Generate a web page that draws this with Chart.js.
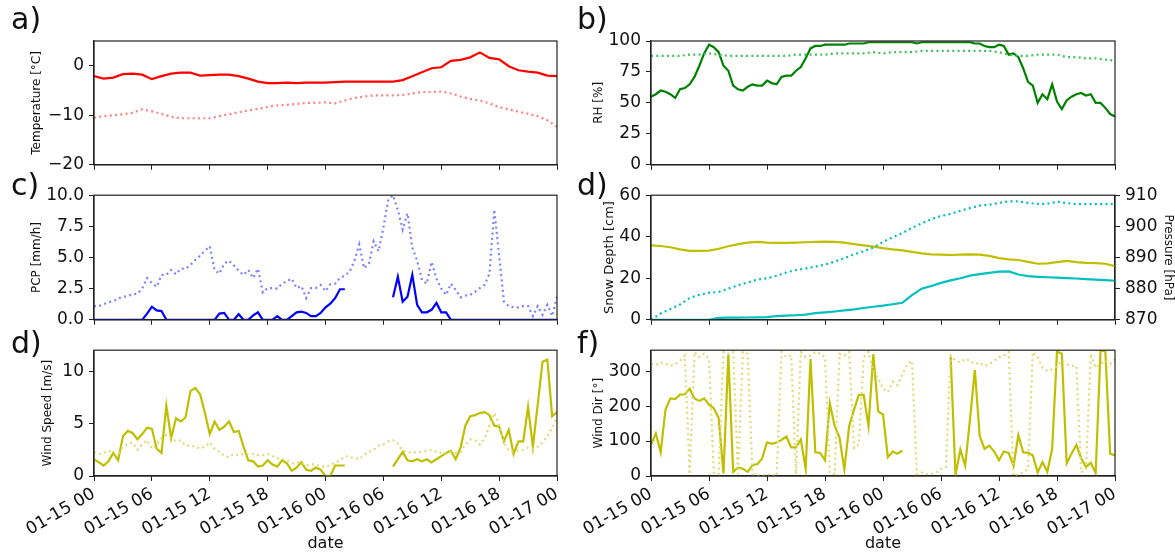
<!DOCTYPE html>
<html>
<head>
<meta charset="utf-8">
<script src="https://cdn.jsdelivr.net/npm/chart.js@4.4.1/dist/chart.umd.min.js"></script>
<style>
  body { margin: 0; background: #fff; }
  #wrap { position: relative; width: 1175px; height: 553px; overflow: hidden; font-family: "DejaVu Sans", sans-serif; }
  canvas { position: absolute; }
  .tag { position: absolute; font-size: 30px; line-height: 30px; color: #111; }
</style>
</head>
<body>
<div id="wrap">
  <canvas id="cA" width="572" height="180" style="left:0;top:0"></canvas>
  <canvas id="cB" width="600" height="180" style="left:575px;top:0"></canvas>
  <canvas id="cC" width="572" height="155" style="left:0;top:180px"></canvas>
  <canvas id="cD" width="600" height="155" style="left:575px;top:180px"></canvas>
  <canvas id="cE" width="572" height="218" style="left:0;top:335px"></canvas>
  <canvas id="cF" width="600" height="218" style="left:575px;top:335px"></canvas>
  <div class="tag" style="left:11px;top:4px">a)</div>
  <div class="tag" style="left:577px;top:4px">b)</div>
  <div class="tag" style="left:11px;top:170px">c)</div>
  <div class="tag" style="left:577px;top:170px">d)</div>
  <div class="tag" style="left:11px;top:328px">d)</div>
  <div class="tag" style="left:577px;top:328px">f)</div>
</div>
<script>
// time axis: hours since 01-15 00
const tickLabels = ["01-15 00", "01-15 06", "01-15 12", "01-15 18", "01-16 00", "01-16 06", "01-16 12", "01-16 18", "01-17 00"];
const hourly = [];
for (let i = 0; i <= 48; i++) hourly.push(i);
const halfHourly = [];
for (let i = 0; i <= 96; i++) halfHourly.push(i / 2);

// a) temperature (hourly)
const tempObs = [-2.1, -2.6, -2.4, -1.7, -1.6, -1.8, -2.7, -2.1, -1.6, -1.4,
  -1.4, -2.0, -1.9, -1.8, -1.8, -2.1, -2.6, -3.2, -3.5, -3.5,
  -3.4, -3.5, -3.4, -3.4, -3.4, -3.3, -3.2, -3.2, -3.2, -3.2,
  -3.2, -3.2, -2.9, -2.1, -1.3, -0.5, -0.3, 1.0, 1.2, 1.7,
  2.7, 1.6, 1.3, -0.1, -0.9, -1.2, -1.4, -2.0, -2.1];
const tempDot = [-10.5, -10.2, -10.0, -9.8, -9.5, -8.8, -9.2, -9.7, -10.3, -10.6,
  -10.6, -10.6, -10.6, -10.2, -9.8, -9.4, -9.0, -8.7, -8.3, -8.0,
  -7.9, -7.7, -7.5, -7.5, -7.4, -7.6, -7.0, -6.5, -6.2, -6.0,
  -6.0, -6.0, -5.9, -5.6, -5.3, -5.3, -5.2, -5.6, -6.2, -6.7,
  -7.0, -7.6, -8.4, -8.8, -9.3, -9.7, -10.2, -11.0, -12.3];

// b) relative humidity (solid half-hourly, dotted hourly)
const rhObs = [55, 57, 60, 59, 57, 54, 61, 62, 65, 71,
  80, 90, 97, 95, 91, 80, 76, 64, 61, 60,
  63, 65, 64, 64, 68, 66, 65, 71, 72, 72,
  76, 79, 86, 94, 96, 96, 97, 97, 97, 97,
  97, 98, 98, 98, 98, 99, 99, 99, 99, 99,
  99, 99, 99, 99, 99, 98, 99, 99, 99, 99,
  99, 99, 99, 99, 99, 99, 99, 98, 98, 96,
  95, 95, 97, 96, 89, 90, 87, 78, 67, 64,
  50, 57, 53, 65, 51, 45, 52, 55, 57, 58,
  56, 57, 50, 50, 46, 41, 39];
const rhDot = [88, 88, 88, 88, 89, 89, 90, 89, 88, 88,
  88, 88, 88, 88, 88, 89, 89, 89, 89, 90,
  90, 90, 90, 91, 90, 91, 91, 91, 92, 92,
  92, 92, 92, 92, 92, 92, 91, 89, 88, 88,
  89, 89, 89, 87, 87, 86, 86, 85, 84];

// c) precipitation (half-hourly)
const pcpObs = [0, 0, 0, 0, 0, 0, 0, 0, 0, 0,
  0, 0.5, 1.05, 0.75, 0.7, 0, 0, 0, 0, 0,
  0, 0, 0, 0, 0, 0, 0.5, 0.55, 0, 0,
  0.45, 0, 0, 0.35, 0.6, 0, 0, 0, 0.3, 0,
  0, 0.3, 0.6, 0.65, 0.55, 0.3, 0.3, 0.55, 1.0, 1.3,
  1.75, 2.45, 2.45, null, null, null, null, null, null, null,
  null, null, 1.8, 3.45, 1.45, 1.85, 3.6, 1.2, 0.6, 0.6,
  0.8, 1.35, 0.6, 0.6, 0, 0, 0, 0, 0, 0,
  0, 0, 0, 0, 0, 0, 0, 0, 0, 0,
  0, 0, 0, 0, 0, 0, 0];
const pcpDot = [1.1, 1.1, 1.25, 1.4, 1.5, 1.7, 1.85, 1.9, 2.05, 2.1,
  2.5, 3.35, 2.95, 2.65, 3.6, 3.6, 4.0, 3.65, 4.1, 4.1,
  4.4, 4.8, 5.15, 5.55, 5.9, 4.0, 3.7, 4.5, 4.75, 4.35,
  3.95, 3.6, 4.0, 3.35, 4.1, 2.2, 2.55, 2.55, 2.5, 2.9,
  3.1, 3.3, 2.55, 2.7, 1.75, 2.55, 2.55, 2.8, 2.3, 2.85,
  2.9, 3.35, 3.55, 3.85, 4.75, 6.05, 4.15, 4.5, 6.3, 5.5,
  7.4, 9.6, 10.0, 8.8, 7.25, 8.55, 5.8, 4.75, 3.2, 2.9,
  4.65, 3.3, 2.5, 2.0, 2.9, 2.4, 1.8, 1.95, 2.0, 2.25,
  2.55, 2.8, 3.7, 8.85, 5.15, 1.45, 1.1, 1.0, 1.0, 1.1,
  1.1, 0.3, 1.1, 0.4, 1.2, 0.3, 1.85];

// d) snow depth [cm] and pressure [hPa] (hourly)
const snowObs = [0, 0, 0, 0, 0, 0, 0, 0.9, 1.0, 1.0,
  1.1, 1.2, 1.3, 1.8, 2.0, 2.2, 2.5, 3.2, 3.6, 4.0,
  4.5, 5.0, 5.7, 6.3, 6.8, 7.5, 8.2, 11.9, 15.0, 16.3,
  17.8, 19.0, 20.0, 21.3, 22.0, 22.6, 23.2, 23.3, 21.8, 21.0,
  20.7, 20.5, 20.3, 20.1, 19.9, 19.6, 19.3, 19.1, 18.8];
const snowDot = [0, 3.0, 5.2, 7.4, 10.5, 12.0, 13.0, 13.4, 15.0, 16.6,
  18.0, 19.3, 20.0, 21.2, 22.8, 24.0, 24.7, 25.6, 26.6, 28.0,
  29.7, 31.5, 33.0, 34.8, 37.5, 39.8, 41.8, 44.3, 46.4, 48.5,
  50.0, 51.0, 52.5, 53.8, 55.0, 55.4, 56.3, 57.0, 57.0, 56.3,
  55.8, 55.9, 56.8, 56.2, 55.7, 55.7, 55.7, 55.7, 55.7];
const pressure = [893.9, 893.7, 893.3, 892.6, 892.1, 892.1, 892.2, 892.8, 893.6, 894.3,
  894.8, 895.0, 894.8, 894.7, 894.7, 894.8, 894.9, 895.0, 895.1, 895.0,
  894.8, 894.3, 893.9, 893.5, 893.0, 892.6, 892.3, 891.8, 891.3, 891.0,
  890.9, 890.8, 890.9, 891.0, 890.9, 890.5, 889.8, 889.4, 889.2, 888.6,
  888.0, 888.1, 888.5, 888.9, 888.5, 888.3, 888.2, 888.0, 887.2];

// e) wind speed (half-hourly)
const wsObs = [1.6, 1.3, 1.0, 1.4, 2.2, 1.5, 3.8, 4.3, 4.1, 3.5,
  4.0, 4.6, 4.5, 2.6, 2.2, 6.7, 3.6, 5.5, 5.2, 5.6,
  8.1, 8.4, 7.8, 6.0, 4.0, 5.2, 4.4, 4.7, 5.2, 4.2,
  4.3, 2.8, 1.5, 1.4, 0.9, 1.0, 1.5, 1.1, 0.9, 1.5,
  1.2, 0.5, 0.8, 1.3, 0.6, 0.5, 0.8, 0.6, 0.0, 0.0,
  1.0, 1.0, 1.0, null, null, null, null, null, null, null,
  null, null, 0.9, 1.6, 2.3, 1.5, 1.4, 1.6, 1.4, 1.6,
  1.3, 1.6, 1.9, 2.2, 2.4, 1.6, 2.7, 4.8, 5.7, 5.8,
  6.0, 6.1, 5.8, 4.8, 4.7, 3.3, 4.4, 2.1, 3.3, 3.3,
  6.6, 2.8, 6.8, 10.9, 11.1, 5.7, 6.1];
const wsDot = [2.3, 2.1, 2.2, 2.4, 2.2, 2.1, 2.8, 3.0, 3.2, 2.5,
  3.0, 3.4, 2.6, 3.0, 3.6, 3.9, 3.6, 3.3, 3.4, 2.9,
  2.9, 2.8, 2.6, 2.8, 3.2, 2.6, 2.3, 1.9, 1.8, 2.1,
  2.0, 2.1, 2.1, 2.1, 2.0, 2.0, 2.1, 1.9, 1.7, 1.6,
  1.5, 1.2, 1.3, 1.3, 1.0, 1.1, 1.1, 0.9, 0.9, 1.0,
  1.3, 1.5, 1.9, 1.8, 1.7, 1.6, 2.0, 2.3, 2.5, 2.9,
  3.0, 3.3, 3.4, 3.1, 2.4, 2.3, 2.2, 2.3, 2.3, 2.4,
  2.5, 2.3, 2.2, 2.1, 2.3, 2.2, 2.3, 3.0, 3.5, 3.4,
  3.0, 3.6, 4.8, 6.0, 4.9, 3.2, 2.4, 2.3, 2.4, 2.5,
  2.7, 2.6, 2.8, 3.2, 3.8, 4.6, 5.5];

// f) wind direction (half-hourly)
const wdObs = [89, 122, 68, 190, 222, 220, 233, 234, 250, 222,
  215, 222, 204, 194, 166, 7, 347, 12, 24, 21,
  12, 31, 34, 50, 96, 92, 96, 103, 113, 82,
  82, 104, 20, 335, 68, 66, 45, 208, 143, 110,
  19, 143, 190, 232, 232, 143, 349, 185, 176, 54,
  70, 64, 73, null, null, null, null, null, null, null,
  null, null, 341, 3, 76, 29, 162, 304, 115, 78,
  87, 70, 45, 70, 66, 29, 117, 68, 66, 59,
  10, 40, 12, 78, 356, 350, 36, 64, 89, 51,
  26, 38, 9, 358, 358, 64, 59];
const wdDot = [320, 318, 325, 322, 315, 320, 330, 345, 5, 355,
  340, 350, 335, 10, 5, 355, 350, 355, 5, 355,
  350, 5, 2, 0, 5, 3, 0, 355, 340, 345,
  5, 355, 340, 345, 355, 350, 340, 10, 5, 350,
  345, 355, 80, 90, 340, 355, 300, 280, 250, 240,
  270, 260, 290, 320, 330, 5, 10, 5, 5, 10,
  20, 25, 345, 330, 325, 335, 330, 320, 325, 315,
  320, 330, 340, 345, 355, 0, 5, 10, 20, 355,
  340, 310, 300, 305, 315, 330, 320, 315, 315, 10,
  20, 350, 310, 320, 330, 320, 335];

const pts = (xs, ys) => xs.map((x, i) => ({ x: x, y: ys[i] }));

function line(xs, ys, color, dotted, axis) {
  return {
    data: pts(xs, ys),
    borderColor: color,
    borderWidth: 2.2,
    borderDash: dotted ? [2, 3.3] : [],
    pointRadius: 0,
    tension: 0,
    spanGaps: false,
    yAxisID: axis || 'y'
  };
}

Chart.defaults.font.family = "'DejaVu Sans', sans-serif";
Chart.defaults.color = '#111';

// draw the full box round each plot area
const frame = {
  id: 'frame',
  afterDatasetsDraw(chart) {
    const a = chart.chartArea, c = chart.ctx;
    c.save();
    c.strokeStyle = '#222';
    c.lineWidth = 1.2;
    c.strokeRect(a.left, a.top, a.right - a.left, a.bottom - a.top);
    c.restore();
  }
};

function xAxis(height, labels) {
  return {
    type: 'linear', min: 0, max: 48,
    ticks: {
      display: labels, stepSize: 6, autoSkip: false, minRotation: 30, maxRotation: 30,
      font: { size: 17 }, color: '#111', padding: 3,
      callback: v => tickLabels[v / 6]
    },
    grid: { drawOnChartArea: false, drawTicks: true, tickLength: 5, tickColor: '#222' },
    border: { color: '#222', width: 1.2 },
    title: { display: labels, text: 'date', font: { size: 16 }, color: '#111', padding: 0 },
    afterFit: s => { s.height = height; }
  };
}

function yAxis(o) {
  return {
    type: 'linear', position: o.pos || 'left', min: o.min, max: o.max,
    ticks: {
      stepSize: o.step, includeBounds: false, font: { size: 17 }, color: '#111', padding: 5,
      callback: o.fmt || (v => String(v).replace('-', '\u2212'))
    },
    grid: { drawOnChartArea: false, drawTicks: true, tickLength: 5, tickColor: '#222' },
    border: { color: '#222', width: 1.2 },
    title: { display: true, text: o.title, font: { size: o.tsize }, color: '#111', padding: 0 },
    afterFit: s => { s.width = o.width; }
  };
}

function panel(id, datasets, scales, pad) {
  return new Chart(document.getElementById(id), {
    type: 'line',
    data: { datasets: datasets },
    options: {
      responsive: false,
      animation: false,
      devicePixelRatio: 1,
      layout: { padding: pad },
      plugins: { legend: { display: false }, tooltip: { enabled: false } },
      scales: scales
    },
    plugins: [frame]
  });
}

const red = '#ff0000', redDot = '#ff8080';
const green = '#008000', greenDot = '#3cc35a';
const blue = '#0000ff', blueDot = '#8080ff';
const cyan = '#00bfbf';
const olive = '#bfbf00', oliveDot = '#dcdc78';

panel('cA',
  [line(hourly, tempDot, redDot, true), line(hourly, tempObs, red, false)],
  { x: xAxis(12, false), y: yAxis({ min: -20, max: 5, step: 10, title: 'Temperature [°C]', tsize: 12, width: 64 }) },
  { left: 30, top: 41, right: 15, bottom: 0 });

panel('cB',
  [line(hourly, rhDot, greenDot, true), line(halfHourly, rhObs, green, false)],
  { x: xAxis(12, false), y: yAxis({ min: 0, max: 100, step: 25, title: 'RH [%]', tsize: 12, width: 59 }) },
  { left: 17, top: 41, right: 60, bottom: 0 });

panel('cC',
  [line(halfHourly, pcpDot, blueDot, true), line(halfHourly, pcpObs, blue, false)],
  { x: xAxis(13, false), y: yAxis({ min: 0, max: 10, step: 2.5, title: 'PCP [mm/h]', tsize: 12, width: 64, fmt: v => v.toFixed(1) }) },
  { left: 30, top: 15, right: 15, bottom: 0 });

panel('cD',
  [line(hourly, snowDot, cyan, true), line(hourly, snowObs, cyan, false), line(hourly, pressure, olive, false, 'y1')],
  {
    x: xAxis(13, false),
    y: yAxis({ min: 0, max: 60, step: 20, title: 'Snow Depth [cm]', tsize: 13, width: 49 }),
    y1: yAxis({ pos: 'right', min: 870, max: 910, step: 10, title: 'Pressure [hPa]', tsize: 12, width: 60 })
  },
  { left: 27, top: 15, right: 0, bottom: 0 });

panel('cE',
  [line(halfHourly, wsDot, oliveDot, true), line(halfHourly, wsObs, olive, false)],
  { x: xAxis(77, true), y: yAxis({ min: 0, max: 12, step: 5, title: 'Wind Speed [m/s]', tsize: 12, width: 53 }) },
  { left: 41, top: 13, right: 15, bottom: 0 });

panel('cF',
  [line(halfHourly, wdDot, oliveDot, true), line(halfHourly, wdObs, olive, false)],
  { x: xAxis(77, true), y: yAxis({ min: 0, max: 360, step: 100, title: 'Wind Dir [°]', tsize: 12, width: 59 }) },
  { left: 17, top: 13, right: 60, bottom: 0 });
</script>
</body>
</html>
